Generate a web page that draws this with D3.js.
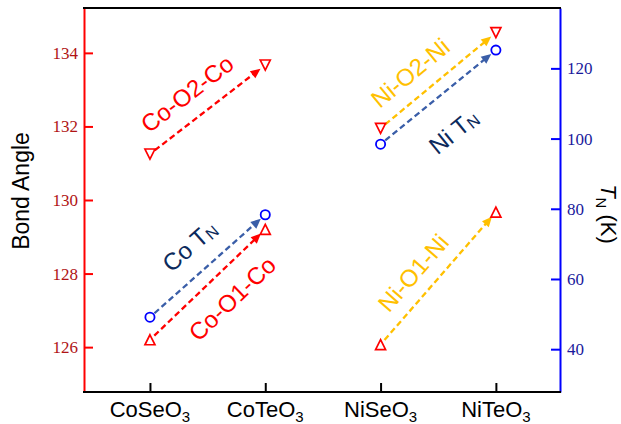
<!DOCTYPE html>
<html><head><meta charset="utf-8">
<script src="https://cdn.jsdelivr.net/npm/d3@7"></script>
<style>body{margin:0;background:#fff} svg{display:block}</style>
</head><body><svg id="c" width="621" height="424"></svg>
<script>
// ---- data ----
const categories = ["CoSe", "CoTe", "NiSe", "NiTe"]; // each followed by O3
const catIndex = [0, 1, 2, 3];
const coO2Values = [131.25, 133.67];   // CoSeO3 -> CoTeO3, bond angle
const coO1Values = [126.2, 129.2];
const niO2Values = [131.95, 134.55];   // NiSeO3 -> NiTeO3
const niO1Values = [126.07, 129.67];
const coTNValues = [49.1, 78.3];       // K
const niTNValues = [98.4, 125.2];
const leftTicks = [126, 128, 130, 132, 134];
const rightTicks = [40, 60, 80, 100, 120];
const coX = [0, 1];
const niX = [2, 3];

const series = [
  {main: "Co-O2-Co", sub: "", xs: coX, vs: coO2Values, axis: "L", marker: "down", arrow: "#ff0000", text: "#ff0000", lx: 0.32, lv: 132.9},
  {main: "Co T", sub: "N", xs: coX, vs: coTNValues, axis: "R", marker: "circle", arrow: "#3a5ea8", text: "#0c2a5c", lx: 0.34, lv: 69.5},
  {main: "Co-O1-Co", sub: "", xs: coX, vs: coO1Values, axis: "L", marker: "up", arrow: "#ff0000", text: "#ff0000", lx: 0.71, lv: 127.33},
  {main: "Ni-O2-Ni", sub: "", xs: niX, vs: niO2Values, axis: "L", marker: "down", arrow: "#ffc000", text: "#ffc000", lx: 2.255, lv: 133.47},
  {main: "Ni T", sub: "N", xs: niX, vs: niTNValues, axis: "R", marker: "circle", arrow: "#3a5ea8", text: "#0c2a5c", lx: 2.63, lv: 102.1},
  {main: "Ni-O1-Ni", sub: "", xs: niX, vs: niO1Values, axis: "L", marker: "up", arrow: "#ffc000", text: "#ffc000", lx: 2.28, lv: 128.03}
];

// ---- layout ----
const L = 84, R = 560, T = 8, B = 392;
const svg = d3.select("#c");
const x = d3.scaleLinear().domain([-0.572, 3.556]).range([L, R]);
const yL = d3.scaleLinear().domain([124.78, 135.22]).range([B, T]);
const yR = d3.scaleLinear().domain([27.8, 137.2]).range([B, T]);
const yOf = s => s.axis === "L" ? yL : yR;

const sans = "Liberation Sans";
const serif = "Liberation Serif";

const gL = svg.append("g").attr("transform", `translate(${L},0)`)
  .call(d3.axisLeft(yL).tickValues(leftTicks).tickSizeInner(-9).tickSizeOuter(0).tickPadding(6));
gL.select(".domain").attr("stroke", "#ff0000").attr("stroke-width", 2);
gL.selectAll(".tick line").attr("stroke", "#ff0000").attr("stroke-width", 2);
gL.selectAll(".tick text").attr("fill", "#b01414").attr("font-family", serif).attr("font-size", 17);

const gR = svg.append("g").attr("transform", `translate(${R},0)`)
  .call(d3.axisRight(yR).tickValues(rightTicks).tickSizeInner(-9).tickSizeOuter(0).tickPadding(7));
gR.select(".domain").attr("stroke", "#0000ff").attr("stroke-width", 2);
gR.selectAll(".tick line").attr("stroke", "#0000ff").attr("stroke-width", 2);
gR.selectAll(".tick text").attr("fill", "#1a1a9c").attr("font-family", serif).attr("font-size", 17);

const gB = svg.append("g").attr("transform", `translate(0,${B})`)
  .call(d3.axisBottom(x).tickValues(catIndex).tickSizeInner(-9).tickSizeOuter(0).tickFormat(""));
gB.select(".domain").attr("stroke", "#000").attr("stroke-width", 2)
  .attr("d", `M${L-1},0H${R+1}`);
gB.selectAll(".tick line").attr("stroke", "#000").attr("stroke-width", 2);

// top border
svg.append("line").attr("x1", L - 1).attr("x2", R + 1).attr("y1", T).attr("y2", T)
  .attr("stroke", "#000").attr("stroke-width", 2);

// x category labels with subscript
categories.forEach((c, i) => {
  const t = svg.append("text").attr("x", x(catIndex[i])).attr("y", 417)
    .attr("text-anchor", "middle").attr("font-family", sans).attr("font-size", 22).attr("fill", "#000");
  t.append("tspan").text(c + "O");
  t.append("tspan").attr("dy", 5).attr("font-size", 15).text("3");
});

// axis titles
svg.append("text").attr("transform", "translate(29,191) rotate(-90)")
  .attr("text-anchor", "middle").attr("font-family", sans).attr("font-size", 23).text("Bond Angle");
const tt = svg.append("text").attr("transform", "translate(601,214) rotate(90)")
  .attr("text-anchor", "middle").attr("font-family", sans).attr("font-size", 22);
tt.append("tspan").attr("font-style", "italic").text("T");
tt.append("tspan").attr("dy", 5).attr("font-size", 15).text("N");
tt.append("tspan").attr("dy", -5).text(" (K)");

// arrows
const shrink = 6, headLen = 10, headHalf = 4.5;
series.forEach(s => {
  const y = yOf(s);
  const x0 = x(s.xs[0]), y0 = y(s.vs[0]), x1 = x(s.xs[1]), y1 = y(s.vs[1]);
  const dx = x1 - x0, dy = y1 - y0, len = Math.hypot(dx, dy);
  const ux = dx / len, uy = dy / len;
  const sx = x0 + ux * shrink, sy = y0 + uy * shrink;
  const tx = x1 - ux * shrink, ty = y1 - uy * shrink;
  const bx = tx - ux * headLen, by = ty - uy * headLen;
  svg.append("line").attr("x1", sx).attr("y1", sy).attr("x2", bx + ux * 2).attr("y2", by + uy * 2)
    .attr("stroke", s.arrow).attr("stroke-width", 2.3).attr("stroke-dasharray", "6,3.5");
  svg.append("path")
    .attr("d", `M${tx},${ty}L${bx - uy * headHalf},${by + ux * headHalf}L${bx + uy * headHalf},${by - ux * headHalf}Z`)
    .attr("fill", s.arrow);
  s.angle = Math.atan2(dy, dx) * 180 / Math.PI;
});

// markers
const tri = (dir, sz) => dir === "up"
  ? `M0,${-sz}L${sz},${sz}L${-sz},${sz}Z`
  : `M0,${sz}L${sz},${-sz}L${-sz},${-sz}Z`;
series.forEach(s => {
  const y = yOf(s);
  s.xs.forEach((xi, i) => {
    const px = x(xi), py = y(s.vs[i]);
    if (s.marker === "circle") {
      svg.append("circle").attr("cx", px).attr("cy", py).attr("r", 4.6)
        .attr("fill", "#fff").attr("stroke", "#0000ff").attr("stroke-width", 1.8);
    } else {
      svg.append("path").attr("transform", `translate(${px},${py})`).attr("d", tri(s.marker, 5))
        .attr("fill", "#fff").attr("stroke", "#ff0000").attr("stroke-width", 1.7);
    }
  });
});

// labels
series.forEach(s => {
  const y = yOf(s);
  const t = svg.append("text")
    .attr("transform", `translate(${x(s.lx)},${y(s.lv)}) rotate(${s.angle})`)
    .attr("text-anchor", "middle").attr("dominant-baseline", "central")
    .attr("font-family", sans).attr("font-size", 24).attr("fill", s.text);
  t.append("tspan").text(s.main);
  if (s.sub) t.append("tspan").attr("dy", 5).attr("font-size", 16).text(s.sub);
});
</script></body></html>
